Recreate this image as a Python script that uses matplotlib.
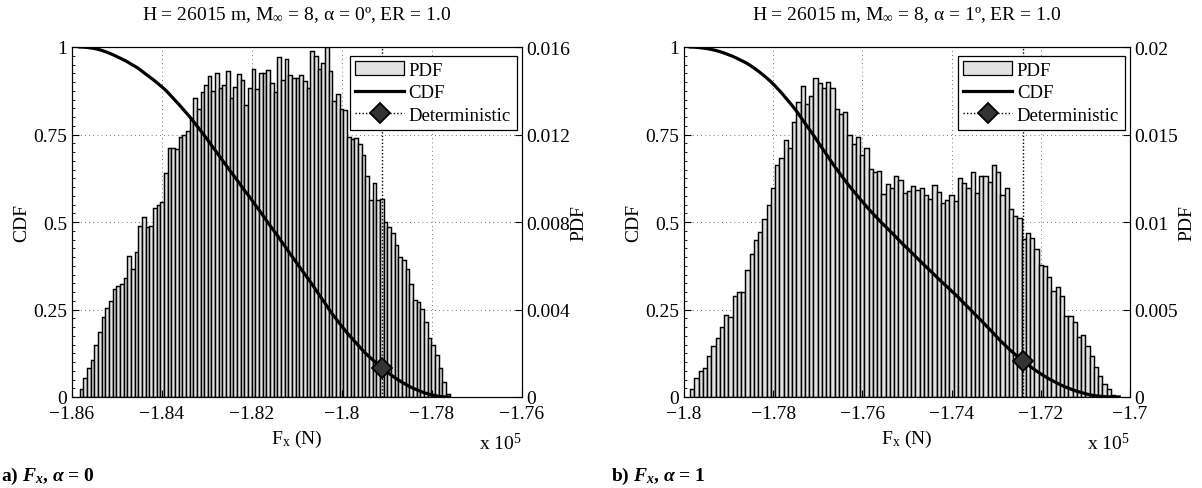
import numpy as np
import matplotlib.pyplot as plt
from matplotlib.lines import Line2D
from matplotlib.patches import Patch
from matplotlib.ticker import AutoMinorLocator

plt.rcParams['font.family'] = ['Liberation Serif', 'DejaVu Serif']
plt.rcParams['mathtext.fontset'] = 'custom'
plt.rcParams['mathtext.rm'] = 'Liberation Serif'
plt.rcParams['mathtext.it'] = 'Liberation Serif:italic:bold'
plt.rcParams['mathtext.bf'] = 'Liberation Serif:bold'


# panel a) alpha = 0 deg, Fx in units of 1e5 N
pdf_a = [
    0.00035, 0.00087, 0.00134, 0.00169, 0.00239, 0.00296, 0.00365, 0.00406, 0.00441, 0.00494,
    0.00506, 0.00515, 0.00544, 0.00646, 0.00585, 0.00664, 0.00780, 0.00824, 0.00778, 0.00781,
    0.00862, 0.00877, 0.00893, 0.01026, 0.01137, 0.01140, 0.01135, 0.01187, 0.01200, 0.01217,
    0.01276, 0.01365, 0.01317, 0.01393, 0.01425, 0.01466, 0.01398, 0.01482, 0.01413, 0.01425,
    0.01489, 0.01366, 0.01416, 0.01475, 0.01448, 0.01333, 0.01413, 0.01500, 0.01406, 0.01482,
    0.01482, 0.01497, 0.01436, 0.01393, 0.01554, 0.01450, 0.01545, 0.01472, 0.01459, 0.01457,
    0.01472, 0.01445, 0.01413, 0.01580, 0.01558, 0.01500, 0.01527, 0.01600, 0.01489, 0.01352,
    0.01387, 0.01317, 0.01310, 0.01190, 0.01178, 0.01185, 0.01155, 0.01106, 0.01010, 0.00901,
    0.00980, 0.00901, 0.00907, 0.00798, 0.00775, 0.00749, 0.00694, 0.00638, 0.00628, 0.00585,
    0.00517, 0.00445, 0.00433, 0.00403, 0.00345, 0.00269, 0.00236, 0.00193, 0.00134, 0.00068,
    0.00012]
range_a = (-1.8583, -1.7761)
det_a = -1.7912
xticks_a = [-1.86, -1.84, -1.82, -1.80, -1.78, -1.76]
xlabels_a = ['\u22121.86', '\u22121.84', '\u22121.82', '\u22121.8', '\u22121.78', '\u22121.76']
pdf_ticks_a = [0, 0.004, 0.008, 0.012, 0.016]
pdf_labels_a = ['0', '0.004', '0.008', '0.012', '0.016']

# panel b) alpha = 1 deg
pdf_b = [
    0.00044, 0.00108, 0.00146, 0.00167, 0.00237, 0.00289, 0.00338, 0.00399, 0.00469, 0.00460,
    0.00576, 0.00598, 0.00598, 0.00726, 0.00817, 0.00897, 0.00944, 0.01016, 0.01096, 0.01197,
    0.01324, 0.01368, 0.01466, 0.01425, 0.01573, 0.01687, 0.01776, 0.01675, 0.01719, 0.01823,
    0.01795, 0.01763, 0.01799, 0.01763, 0.01643, 0.01620, 0.01628, 0.01497, 0.01444, 0.01485,
    0.01381, 0.01421, 0.01301, 0.01286, 0.01292, 0.01162, 0.01219, 0.01197, 0.01263, 0.01238,
    0.01168, 0.01178, 0.01206, 0.01183, 0.01197, 0.01153, 0.01130, 0.01214, 0.01172, 0.01107,
    0.01123, 0.01153, 0.01121, 0.01254, 0.01221, 0.01193, 0.01288, 0.01164, 0.01263, 0.01263,
    0.01231, 0.01324, 0.01286, 0.01155, 0.01193, 0.01073, 0.01035, 0.01022, 0.00902, 0.00936,
    0.00908, 0.00845, 0.00756, 0.00746, 0.00684, 0.00604, 0.00627, 0.00576, 0.00465, 0.00465,
    0.00431, 0.00342, 0.00355, 0.00289, 0.00232, 0.00171, 0.00118, 0.00076, 0.00044, 0.00013,
    0.00005]
range_b = (-1.7986, -1.7024)
det_b = -1.7240
xticks_b = [-1.80, -1.78, -1.76, -1.74, -1.72, -1.70]
xlabels_b = ['\u22121.8', '\u22121.78', '\u22121.76', '\u22121.74', '\u22121.72', '\u22121.7']
pdf_ticks_b = [0, 0.005, 0.01, 0.015, 0.02]
pdf_labels_b = ['0', '0.005', '0.01', '0.015', '0.02']

cdf_ticks = [0, 0.25, 0.5, 0.75, 1]
cdf_labels = ['0', '0.25', '0.5', '0.75', '1']

titles = ['H = 26015 m, M$_{\\infty}$ = 8, \u03b1 = 0\u00ba, ER = 1.0',
          'H = 26015 m, M$_{\\infty}$ = 8, \u03b1 = 1\u00ba, ER = 1.0']
captions = ['a) $F_x$, $\\alpha$ = 0', 'b) $F_x$, $\\alpha$ = 1']

FS = 14
grid_ls = (0, (1, 4))


def panel(ax, pdf, rng, det, xticks, xlabels, pdf_ticks, pdf_labels, title):
    pdf = np.asarray(pdf)
    edges = np.linspace(rng[0], rng[1], len(pdf) + 1)

    ax2 = ax.twinx()
    ax.set_zorder(ax2.get_zorder() + 1)
    ax.patch.set_visible(False)

    # grid behind the bars
    ax2.grid(True, axis='y', ls=grid_ls, lw=0.6, color='#444444')
    for xt in xticks[1:-1]:
        ax2.axvline(xt, ls=grid_ls, lw=0.6, color='#444444', zorder=0.5)
    ax2.set_axisbelow(True)

    ax2.bar(edges[:-1], pdf, width=np.diff(edges), align='edge',
            color='#e2e2e2', edgecolor='k', linewidth=1.05, zorder=2)

    cdf = 1 - np.concatenate([[0], np.cumsum(pdf)]) / pdf.sum()
    ax.plot(edges, cdf, color='k', lw=2.3, zorder=3)
    ax.axvline(det, ls=(0, (1, 1.5)), lw=1.0, color='k', zorder=2)
    ax.plot([det], [np.interp(det, edges, cdf)], ls='none', marker='D', ms=10.5,
            mfc='#333333', mec='k', mew=1.3, zorder=4)

    ax.set_xlim(xticks[0], xticks[-1])
    ax.set_ylim(0, 1)
    ax2.set_ylim(pdf_ticks[0], pdf_ticks[-1])

    ax.set_xticks(xticks)
    ax.set_xticklabels(xlabels)
    ax.set_yticks(cdf_ticks)
    ax.set_yticklabels(cdf_labels)
    ax.yaxis.set_minor_locator(AutoMinorLocator(10))
    ax2.set_yticks(pdf_ticks)
    ax2.set_yticklabels(pdf_labels)
    ax.tick_params(direction='in', length=5, labelsize=FS, width=0.8)
    ax.tick_params(axis='x', pad=6)
    ax.tick_params(axis='y', which='minor', direction='in', length=2.5, width=0.6)
    ax2.tick_params(direction='in', length=5, labelsize=FS, width=0.8, pad=3)

    ax.set_xlabel('F$_{\\mathrm{x}}$ (N)', fontsize=FS, labelpad=4)
    ax.set_ylabel('CDF', fontsize=FS, labelpad=2)
    ax2.set_ylabel('PDF', fontsize=FS, labelpad=0)
    ax.text(1.0, -0.1, 'x 10$^{5}$', transform=ax.transAxes, ha='right', va='top', fontsize=FS)
    ax.set_title(title, fontsize=FS, pad=20)

    handles = [Patch(facecolor='#e2e2e2', edgecolor='k', lw=0.9),
               Line2D([], [], color='k', lw=2.3),
               Line2D([], [], color='k', ls=(0, (1, 1.5)), lw=1.0, marker='D', ms=10.5,
                      mfc='#333333', mec='k', mew=1.3)]
    leg = ax.legend(handles, ['PDF', 'CDF', 'Deterministic'], loc='upper right',
                    bbox_to_anchor=(0.988, 0.975), borderaxespad=0, fontsize=13.5,
                    fancybox=False, framealpha=1, edgecolor='k', borderpad=0.3,
                    labelspacing=0.3, handlelength=2.6, handletextpad=0.25)
    leg.get_frame().set_linewidth(0.9)

    for sp in list(ax.spines.values()) + list(ax2.spines.values()):
        sp.set_linewidth(0.8)


fig = plt.figure(figsize=(12.02, 4.89), dpi=100)
ax_a = fig.add_axes([72 / 1202, 91 / 489, 450 / 1202, 350 / 489])
ax_b = fig.add_axes([684 / 1202, 91 / 489, 446 / 1202, 350 / 489])

panel(ax_a, pdf_a, range_a, det_a, xticks_a, xlabels_a, pdf_ticks_a, pdf_labels_a, titles[0])
panel(ax_b, pdf_b, range_b, det_b, xticks_b, xlabels_b, pdf_ticks_b, pdf_labels_b, titles[1])

fig.text(0.001, 0.016, captions[0], fontsize=FS, fontweight='bold', va='baseline')
fig.text(611 / 1202, 0.016, captions[1], fontsize=FS, fontweight='bold', va='baseline')

fig.savefig('out.png', dpi=100, facecolor='white')
